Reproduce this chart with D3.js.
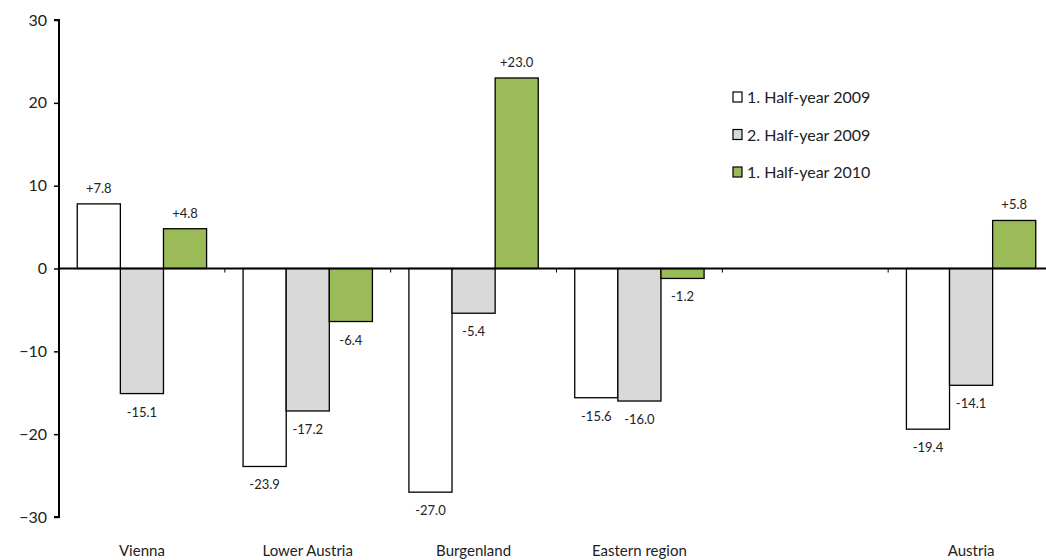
<!DOCTYPE html>
<html><head><meta charset="utf-8">
<script src="https://cdn.jsdelivr.net/npm/d3@7"></script>
<style>body{margin:0;background:#fff}svg{display:block;font-family:"Lato","Noto Sans",sans-serif}</style>
</head><body><svg id="c" width="1046" height="560"></svg>
<script>
const categories = ["Vienna", "Lower Austria", "Burgenland", "Eastern region", "", "Austria"];
const seriesNames = ["1. Half-year 2009", "2. Half-year 2009", "1. Half-year 2010"];
const h1_2009 = [7.8, -23.9, -27.0, -15.6, null, -19.4];
const h2_2009 = [-15.1, -17.2, -5.4, -16.0, null, -14.1];
const h1_2010 = [4.8, -6.4, 23.0, -1.2, null, 5.8];
const yTicks = [-30, -20, -10, 0, 10, 20, 30];
const colors = ["#ffffff", "#d9d9d9", "#9bbb59"];

const series = [h1_2009, h2_2009, h1_2010];
const svg = d3.select("#c");
const x0 = d3.scaleBand().domain(d3.range(categories.length)).range([59, 1054]).paddingInner(0.22).paddingOuter(0.11);
const x1 = d3.scaleBand().domain(d3.range(series.length)).range([0, x0.bandwidth()]);
const y = d3.scaleLinear().domain([-30, 30]).range([517, 20]);

// bars
series.forEach((vals, si) => {
  const g = svg.append("g");
  vals.forEach((v, ci) => {
    if (v == null) return;
    const bx = x0(ci) + x1(si);
    g.append("rect").attr("x", bx).attr("width", x1.bandwidth())
      .attr("y", y(Math.max(0, v))).attr("height", Math.abs(y(v) - y(0)))
      .attr("fill", colors[si]).attr("stroke", "#000").attr("stroke-width", 1.3);
    const lbl = (v > 0 ? "+" : "") + v.toFixed(1);
    g.append("text").attr("x", bx + x1.bandwidth() / 2)
      .attr("y", v >= 0 ? y(v) - 11 : y(v) + 23)
      .attr("text-anchor", "middle").attr("font-size", 13).attr("fill", "#222").text(lbl);
  });
});

// zero line with category ticks
const xAxis = d3.axisBottom(x0).tickValues(d3.range(1, categories.length)).tickSize(4).tickFormat("");
const xa = svg.append("g").attr("transform", `translate(0,${y(0)})`).call(xAxis);
xa.selectAll(".tick").attr("transform", d => `translate(${x0(d) - x0.step() * 0.11 * 0 - (x0.step() - x0.bandwidth()) / 2},0)`);
xa.select(".domain").attr("d", `M59,0H1046`).attr("stroke", "#000").attr("stroke-width", 2);
xa.selectAll("line").attr("stroke", "#000").attr("stroke-width", 1);

// category labels
svg.append("g").selectAll("text").data(categories).join("text")
  .attr("x", (d, i) => x0(i) + x0.bandwidth() / 2).attr("y", 556)
  .attr("text-anchor", "middle").attr("font-size", 15).attr("fill", "#222").text(d => d);

// y axis
const ya = svg.append("g").attr("transform", "translate(59,0)").call(d3.axisLeft(y).tickValues(yTicks).tickSize(5).tickFormat(d3.format("d")));
ya.select(".domain").attr("d", `M-5,${y(30)}H0V${y(-30)}H-5`).attr("stroke", "#000").attr("stroke-width", 2).attr("fill", "none");
ya.selectAll("line").attr("stroke", "#000").attr("stroke-width", 1.5);
ya.selectAll("text").attr("font-size", 16).attr("fill", "#222").attr("x", -12).style("font-family", "Lato, sans-serif");

// legend
const lg = svg.append("g").attr("transform", "translate(733,97)");
seriesNames.forEach((n, i) => {
  const gy = i * 37.5;
  lg.append("rect").attr("x", 0).attr("y", gy - 5).attr("width", 9).attr("height", 10)
    .attr("fill", colors[i]).attr("stroke", "#000").attr("stroke-width", 1.2);
  lg.append("text").attr("x", 14).attr("y", gy + 6).attr("font-size", 16).attr("fill", "#222").text(n);
});
</script></body></html>
